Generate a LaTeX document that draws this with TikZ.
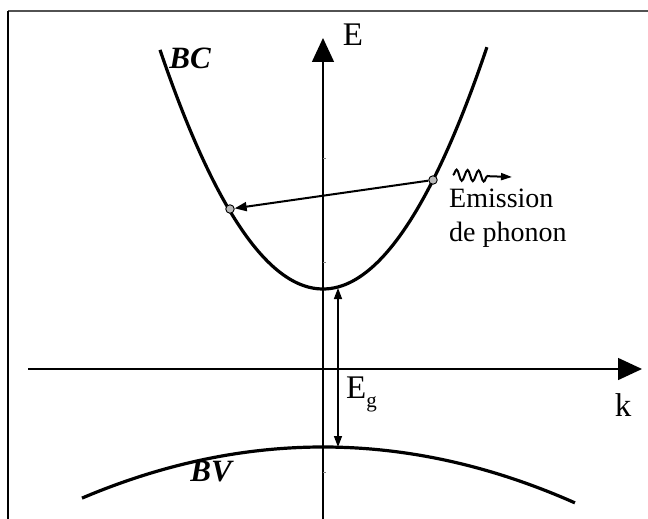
\documentclass[tikz,border=0pt]{standalone}
\usepackage{fontspec}
\setmainfont{Liberation Serif}
\usetikzlibrary{arrows.meta,decorations.pathmorphing}
\begin{document}
\begin{tikzpicture}[x=1pt,y=-1pt,
  band/.style={line width=3.2pt},
  axisline/.style={line width=1.5pt,-{Triangle[length=24pt,width=22pt]}},
  dot/.style={circle,draw,line width=0.9pt,fill=gray!55,inner sep=0pt,minimum size=8.5pt},
  biglbl/.style={font=\fontsize{33}{38}\selectfont,inner sep=0pt},
  bandlbl/.style={font=\fontsize{31}{34}\selectfont\bfseries\itshape,inner sep=0pt},
  txt/.style={font=\fontsize{28}{32}\selectfont,inner sep=0pt}]
\useasboundingbox (0,0) rectangle (648,519);
% frame
\draw[black!68,line width=2.6pt] (8,11) -- (648,11);
\draw[line width=1.6pt] (8,11) -- (8,519);
% axes
\coordinate (yb) at (323,519);
\coordinate (yt) at (323,38);
\coordinate (xl) at (28,369);
\coordinate (xr) at (642,369);
\draw[axisline] (yb) -- (yt);
\draw[axisline] (xl) -- (xr);
% faint ticks
\draw[gray,line width=0.6pt] (323,158) -- (326,158) (323,262) -- (326,262) (323,472) -- (326,472);
% bands
\draw[band] plot[domain=-1.63:1.64,samples=80,smooth] ({323+100*\x},{289-90*\x*\x});
\draw[band] plot[domain=-2.41:2.52,samples=80,smooth] ({323+100*\x},{447+8.8*\x*\x});
% labels
\node[biglbl] (E) at (353,35) {E};
\node[biglbl] (k) at (623,405) {k};
\node[biglbl,anchor=base west] (Eg) at (346,398) {E\raisebox{-0.3em}{\fontsize{21}{21}\selectfont g}};
\node[bandlbl] (BC) at (190,58) {BC};
\node[bandlbl] (BV) at (211,472) {BV};
% gap arrow
\coordinate (gt) at (338,288);
\coordinate (gb) at (338,447);
\draw[line width=1.4pt,{Triangle[length=11pt,width=8pt]}-{Triangle[length=11pt,width=8pt]}] (gb) -- (gt);
% transition
\node[dot] (p1) at (433,180) {};
\node[dot] (p2) at (230,209) {};
\draw[line width=2pt,-{Triangle[length=12pt,width=9pt]}] (p1) -- (p2);
% phonon
\coordinate (w1) at (453,175);
\coordinate (w2) at (512,177);
\draw[line width=2pt,decorate,decoration={snake,amplitude=5.5pt,segment length=11pt,post length=24pt},-{Triangle[length=11pt,width=7pt]}] (w1) -- (w2);
\node[txt,anchor=base west] (em1) at (449,207) {Emission};
\node[txt,anchor=base west] (em2) at (449,241) {de phonon};
\end{tikzpicture}
\end{document}
